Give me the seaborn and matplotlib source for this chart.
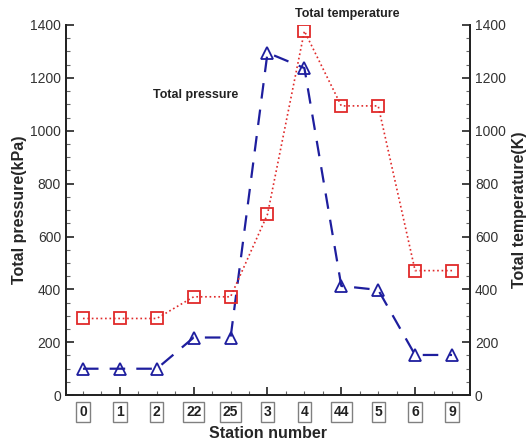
import numpy as np
import pandas as pd
import matplotlib
matplotlib.use("Agg")
import matplotlib.pyplot as plt
import seaborn as sns
from matplotlib.ticker import MultipleLocator, FixedLocator, NullFormatter

# station order along the flow path
stations = ["0", "1", "2", "22", "25", "3", "4", "44", "5", "6", "9"]
total_pressure = [100, 100, 100, 218, 218, 1295, 1237, 413, 398, 152, 152]     # kPa
total_temperature = [290, 290, 290, 372, 372, 684, 1377, 1094, 1094, 471, 471]  # K

df = pd.DataFrame({"idx": np.arange(len(stations)), "station": stations,
                   "p": total_pressure, "t": total_temperature})

sns.set_style("ticks")
plt.rcParams['font.family'] = ['Liberation Sans', 'DejaVu Sans']

fig = plt.figure(figsize=(5.3, 4.46), dpi=100)
ax = fig.add_axes([0.1245, 0.114, 0.7625, 0.830])
ax2 = ax.twinx()

blue = "#1e1e9e"
red = "#e02a2a"

sns.lineplot(data=df, x="idx", y="p", ax=ax, color=blue, marker="^", markersize=8.5,
             markerfacecolor="none", markeredgecolor=blue, markeredgewidth=1.3,
             linewidth=1.6, dashes=False)
ax.lines[0].set_dashes([7, 5])
sns.lineplot(data=df, x="idx", y="t", ax=ax2, color=red, marker="s", markersize=8.5,
             markerfacecolor="none", markeredgecolor=red, markeredgewidth=1.3,
             linewidth=1.2, dashes=False)
ax2.lines[0].set_linestyle(":")

for a in (ax, ax2):
    a.set_ylim(0, 1400)
    a.set_xlim(-0.46, 10.49)
    a.yaxis.set_major_locator(MultipleLocator(200))
    a.yaxis.set_minor_locator(MultipleLocator(50))
    a.spines["top"].set_visible(False)
    for s in ("left", "right", "bottom"):
        a.spines[s].set_linewidth(1.3)
        a.spines[s].set_color("#222222")

ax.xaxis.set_major_locator(FixedLocator([1, 3, 5, 7, 9]))
ax.xaxis.set_minor_locator(MultipleLocator(0.5))
ax.xaxis.set_major_formatter(NullFormatter())
ax.tick_params(axis="both", which="major", direction="in", length=6, width=1.2,
               labelsize=10, labelcolor="#333333", color="#222222")
ax.tick_params(axis="both", which="minor", direction="in", length=3, width=0.8,
               color="#666666")
ax2.tick_params(axis="y", which="major", direction="in", length=6, width=1.2,
                labelsize=10, labelcolor="#333333", color="#222222")
ax2.tick_params(axis="y", which="minor", direction="in", length=3, width=0.8,
                color="#666666")

# boxed station labels
for i, s in enumerate(stations):
    ax.text(i, -0.045, s, transform=ax.get_xaxis_transform(), ha="center", va="center",
            fontsize=10, color="#222222", fontweight="bold",
            bbox=dict(boxstyle="square,pad=0.2", facecolor="white",
                      edgecolor="#808080", linewidth=1))

ax.set_xlabel("Station number", fontsize=11.5, fontweight="bold", labelpad=19)
ax.set_ylabel("Total pressure(kPa)", fontsize=11.5, fontweight="bold", labelpad=2)
ax2.set_ylabel("Total temperature(K)", fontsize=11.5, fontweight="bold", labelpad=4)

ax.text(3.05, 1135, "Total pressure", fontsize=9, fontweight="bold", ha="center",
        va="center", color="#222222")
ax.text(7.15, 1440, "Total temperature", fontsize=9, fontweight="bold", ha="center",
        va="center", color="#222222", clip_on=False)

fig.savefig("out.png", dpi=100)
